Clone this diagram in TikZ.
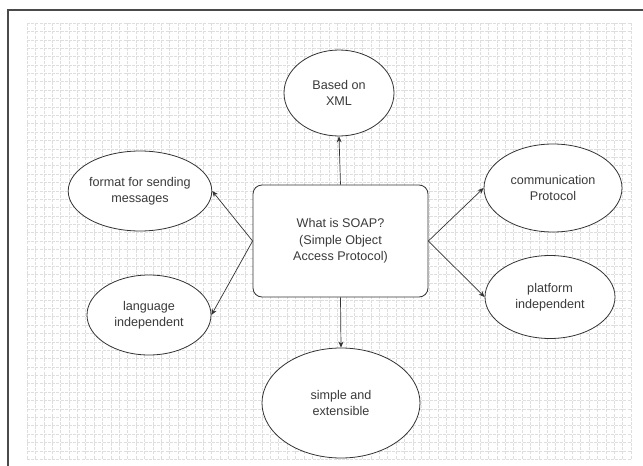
\documentclass[tikz,border=0pt]{standalone}
\usepackage{fontspec}
\setmainfont{Liberation Sans}
\usetikzlibrary{shapes.geometric,arrows.meta}
\definecolor{ink}{HTML}{333333}
\definecolor{txt}{HTML}{3A3A3A}
\definecolor{gridc}{HTML}{DEDEDE}
\definecolor{framec}{HTML}{4A4A4A}
\tikzset{
  bubble/.style={ellipse, draw=ink, line width=0.8pt, fill=white, inner sep=0pt,
    align=center, text=txt, font=\fontsize{12.6}{15.5}\selectfont},
  centerbox/.style={rectangle, rounded corners=9pt, draw=ink, line width=0.8pt, fill=white,
    inner sep=0pt, align=center, text=txt, font=\fontsize{12.6}{16.5}\selectfont},
  link/.style={draw=ink, line width=0.7pt, -{Stealth[length=6pt,width=5pt]}},
  gridline/.style={draw=gridc, line width=0.55pt, dash pattern=on 3pt off 1.2pt},
}
\begin{document}
\begin{tikzpicture}[x=1pt,y=-1pt]
  \useasboundingbox (0,0) rectangle (643,466);
  \fill[white] (0,0) rectangle (643,466);
  % background grid
  \foreach \i in {0,...,72}
    \draw[gridline] ({27+8.39*\i},23) -- ({27+8.39*\i},459);
  \foreach \j in {0,...,52}
    \draw[gridline] (27,{23+8.39*\j}) -- (631,{23+8.39*\j});
  % page frame (left and top edges)
  \draw[framec, line width=1.4pt] (8,470) -- (8,10) -- (650,10);

  % central topic
  \node[centerbox, minimum width=175pt, minimum height=112pt] (soap) at (340.5,241)
    {What is SOAP?\\(Simple Object\\Access Protocol)};

  % surrounding ideas
  \node[bubble, minimum width=110pt, minimum height=86pt] (xml) at (339,93) {Based on\\XML};
  \node[bubble, minimum width=127pt, minimum height=80pt] (fmt) at (140,191) {format for sending\\messages};
  \node[bubble, minimum width=124pt, minimum height=80pt] (lang) at (149,315) {language\\independent};
  \node[bubble, minimum width=138pt, minimum height=88pt] (comm) at (553,188) {communication\\Protocol};
  \node[bubble, minimum width=130pt, minimum height=83pt] (plat) at (550,297) {platform\\independent};
  \node[bubble, minimum width=158pt, minimum height=110pt] (simp) at (341,403) {simple and\\extensible};

  % connectors
  \draw[link] (soap.north) -- (xml.south);
  \draw[link] (soap.west) -- (fmt.east);
  \draw[link] (soap.west) -- (lang.east);
  \draw[link] (soap.east) -- (comm.west);
  \draw[link] (soap.east) -- (plat.west);
  \draw[link] (soap.south) -- (simp.north);
\end{tikzpicture}
\end{document}
